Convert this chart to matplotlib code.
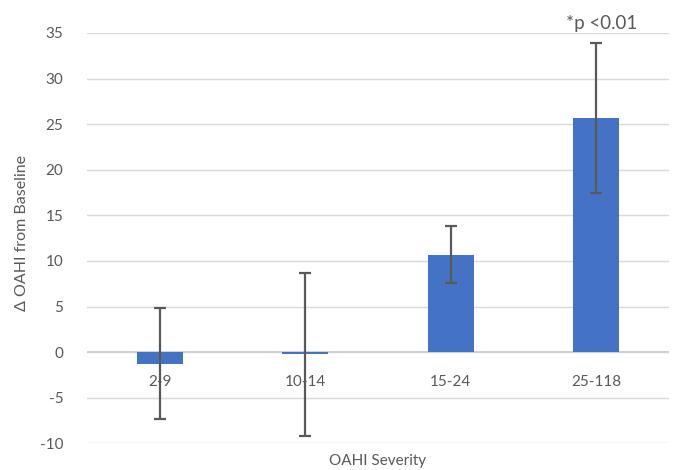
import matplotlib
matplotlib.use("Agg")
import matplotlib.pyplot as plt
import numpy as np

categories = ["2-9", "10-14", "15-24", "25-118"]
means = [-1.25, -0.25, 10.65, 25.7]
err_upper = [4.85, 8.65, 13.85, 33.85]
err_lower = [-7.35, -9.15, 7.55, 17.5]
y_ticks = [-10, -5, 0, 5, 10, 15, 20, 25, 30, 35]

plt.rcParams['font.family'] = ['Lato', 'DejaVu Sans']

fig = plt.figure(figsize=(6.76, 4.70), dpi=100)
ax = fig.add_axes([87/676, 1-443.3/470, (669-87)/676, (443.3-33)/470])

x = np.arange(len(categories))
means_a = np.array(means)
yerr = np.vstack([means_a - np.array(err_lower), np.array(err_upper) - means_a])

ax.bar(x, means, width=0.315, color="#4472C4", zorder=3)
ax.errorbar(x, means, yerr=yerr, fmt="none", ecolor="#595959", elinewidth=1.6,
            capsize=4, capthick=1.6, zorder=4)

ax.set_xlim(-0.5, len(categories) - 0.5)
ax.set_ylim(-10, 35)
ax.set_yticks(y_ticks)
ax.set_yticklabels([str(t) for t in y_ticks], fontsize=11, color="#595959")
ax.tick_params(axis="y", length=0, pad=17)
ax.set_xticks([])
for s in ax.spines.values():
    s.set_visible(False)
ax.yaxis.grid(True, color="#D9D9D9", linewidth=1.0, zorder=0)
ax.set_axisbelow(True)
ax.axhline(0, color="#D0D0D0", linewidth=1.4, zorder=1)

for i, c in enumerate(categories):
    ax.annotate(c, xy=(i, 0), xytext=(0, -21.6), textcoords="offset points",
                ha="center", va="center", fontsize=11, color="#595959", zorder=5)

ax.annotate("*p <0.01", xy=(3, 35), xytext=(4, 7), textcoords="offset points",
            ha="center", va="center", fontsize=13.5, color="#595959",
            annotation_clip=False)

fig.text(378/676, 1-461/470, "OAHI Severity", ha="center", va="center",
         fontsize=11, color="#595959")
fig.text(22/676, 1-233/470, "Δ OAHI from Baseline", ha="center", va="center",
         rotation=90, fontsize=11.5, color="#595959")

fig.savefig("out.png", dpi=100)
